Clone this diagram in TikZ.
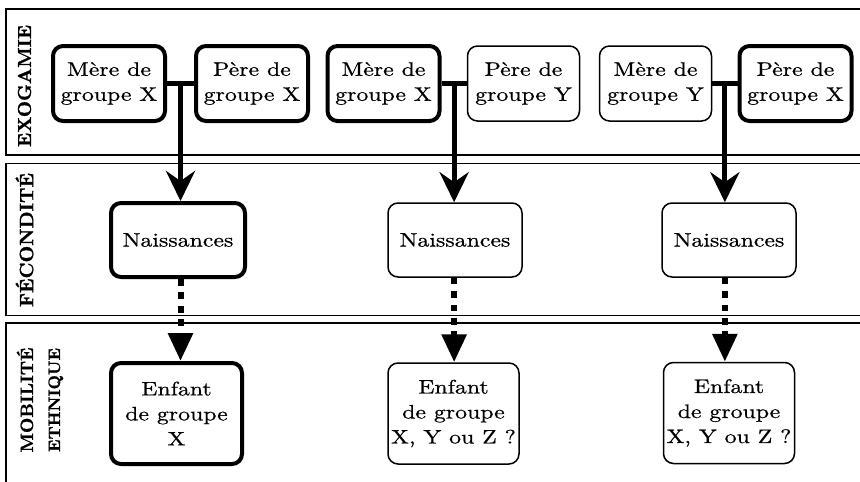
\documentclass[tikz,border=0pt]{standalone}
\usepackage{fontspec}
\usepackage{graphicx}
\newfontfamily\boxfont{lmroman10-regular.otf}[FakeStretch=1.22,FakeBold=0.6]
\newfontfamily\labfont{lmroman10-bold.otf}[FakeBold=1.2]
\usetikzlibrary{arrows.meta,calc}
\begin{document}
\begin{tikzpicture}[x=1pt,y=-1pt,
  pbox/.style={draw, rounded corners=10pt, line width=1.5pt, align=center, inner sep=0pt,
    font=\boxfont\fontsize{19.5}{25}\selectfont},
  boldbox/.style={line width=4pt},
  parent/.style={minimum width=112pt, minimum height=75pt},
  naiss/.style={minimum width=134pt, minimum height=74pt},
  enfant/.style={minimum width=131pt, minimum height=101pt},
  band/.style={line width=1.5pt},
  lab/.style={rotate=90, align=center, inner sep=0pt, font=\labfont\fontsize{19}{27}\selectfont},
  link/.style={line width=5pt},
  birth/.style={line width=5pt, -{Stealth[length=30pt,width=29pt,inset=10pt]}},
  desc/.style={line width=6pt, dash pattern=on 6.7pt off 6.7pt, -{Triangle[length=28pt,width=24pt]}}
]
\useasboundingbox[fill=white] (0,0) rectangle (860,482);
% bands
\draw[band] (861,9) -- (6,9) -- (6,155) -- (861,155);
\draw[band] (861,163.5) -- (6,163.5) -- (6,315.5) -- (861,315.5);
\draw[band] (861,323) -- (6,323) -- (6,483);
% band labels
\node[lab] (l1) at (24.5,86) {\resizebox{122pt}{!}{EXOGAMIE}};
\node[lab] (l2) at (24.5,240) {\resizebox{134pt}{!}{FÉCONDITÉ}};
\node[lab] (l3) at (40,400) {\resizebox{105pt}{!}{MOBILITÉ}\\\resizebox{104pt}{!}{ETHNIQUE}};
% parents
\node[pbox,boldbox,parent] (m1) at (109,83.5) {Mère de\\groupe X};
\node[pbox,boldbox,parent] (p1) at (252,83.5) {Père de\\groupe X};
\node[pbox,boldbox,parent] (m2) at (383.5,83.5) {Mère de\\groupe X};
\node[pbox,parent] (p2) at (523.5,83.5) {Père de\\groupe Y};
\node[pbox,parent] (m3) at (655.5,83.5) {Mère de\\groupe Y};
\node[pbox,boldbox,parent] (p3) at (795.5,83.5) {Père de\\groupe X};
% births
\node[pbox,boldbox,naiss] (n1) at (178,240) {Naissances};
\node[pbox,naiss] (n2) at (455,240) {Naissances};
\node[pbox,naiss] (n3) at (729,240) {Naissances};
% children
\node[pbox,boldbox,enfant] (e1) at (176.5,413.5) {Enfant\\de groupe\\X};
\node[pbox,enfant] (e2) at (453.5,413.5) {Enfant\\de groupe\\X, Y ou Z ?};
\node[pbox,enfant] (e3) at (729,413) {Enfant\\de groupe\\X, Y ou Z ?};
% junctions
\coordinate (j1) at ($(m1.east)!0.5!(p1.west)$);
\coordinate (j2) at ($(m2.east)!0.5!(p2.west)$);
\coordinate (j3) at ($(m3.east)!0.5!(p3.west)$);
% connectors
\draw[link] (m1.east) -- (p1.west);
\draw[link] (m2.east) -- (p2.west);
\draw[link] (m3.east) -- (p3.west);
\draw[birth] (j1) -- (j1 |- n1.north);
\draw[birth] (j2) -- (j2 |- n2.north);
\draw[birth] (j3) -- (j3 |- n3.north);
\draw[desc] (j1 |- n1.south) -- (j1 |- e1.north);
\draw[desc] (j2 |- n2.south) -- (j2 |- e2.north);
\draw[desc] (j3 |- n3.south) -- (j3 |- e3.north);
\end{tikzpicture}
\end{document}
